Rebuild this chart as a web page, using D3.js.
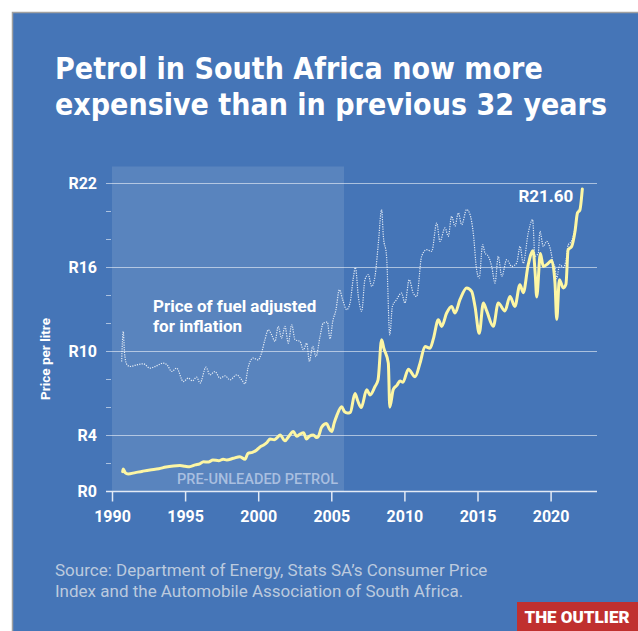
<!DOCTYPE html>
<html>
<head>
<meta charset="utf-8">
<script src="https://cdn.jsdelivr.net/npm/d3@7"></script>
<style>
  html, body { margin: 0; padding: 0; background: #ffffff; }
  svg { display: block; }
</style>
</head>
<body>
<svg id="chart" width="638" height="631"></svg>
<script>
// Nominal pump price of petrol (rand per litre), by decimal year
const nominalYears = [
  1990.73, 1990.77, 1990.9, 1991.1, 1991.6, 1992.1, 1992.6, 1993.2, 1993.7, 1994.2,
  1994.65, 1995.0, 1995.3, 1995.7, 1996.0, 1996.25, 1996.6, 1996.9, 1997.3, 1997.6,
  1997.85, 1998.3, 1998.75, 1999.1, 1999.3, 1999.6, 1999.9, 2000.15, 2000.35, 2000.6,
  2000.8, 2001.1, 2001.3, 2001.5, 2001.83, 2002.1, 2002.4, 2002.63, 2002.86, 2003.1,
  2003.3, 2003.5, 2003.77, 2004.0, 2004.11, 2004.34, 2004.68, 2004.85, 2005.03, 2005.2,
  2005.37, 2005.71, 2005.9, 2006.1, 2006.3, 2006.62, 2006.8, 2007.05, 2007.42, 2007.65,
  2007.99, 2008.2, 2008.44, 2008.6, 2008.9, 2009.0, 2009.24, 2009.5, 2009.7, 2009.9,
  2010.27, 2010.73, 2011.07, 2011.41, 2011.75, 2011.98, 2012.32, 2012.55, 2012.89, 2013.23,
  2013.46, 2013.8, 2014.26, 2014.6, 2014.83, 2015.12, 2015.4, 2015.63, 2016.08, 2016.42,
  2016.88, 2017.22, 2017.56, 2017.9, 2018.13, 2018.47, 2018.8, 2018.95, 2019.05, 2019.3,
  2019.5, 2019.84, 2020.07, 2020.3, 2020.42, 2020.6, 2020.87, 2021.05, 2021.2, 2021.44,
  2021.67, 2021.84, 2022.0, 2022.17
];
const nominalPrice = [
  1.42, 1.6, 1.35, 1.25, 1.35, 1.45, 1.54, 1.62, 1.75, 1.82,
  1.85, 1.8, 1.77, 1.9, 1.97, 2.13, 2.1, 2.25, 2.2, 2.3,
  2.25, 2.37, 2.49, 2.3, 2.73, 2.8, 2.97, 3.2, 3.3, 3.5,
  3.75, 3.7, 3.85, 4.04, 3.62, 3.95, 4.28, 3.95, 4.1, 4.2,
  3.75, 3.95, 4.04, 3.85, 3.92, 4.6, 4.85, 4.5, 4.28, 4.9,
  5.4, 6.05, 5.7, 5.6, 5.65, 7.0, 6.5, 6.0, 7.26, 6.9,
  7.5, 7.98, 10.84, 10.2, 9.17, 6.02, 7.3, 7.6, 7.9, 7.8,
  8.74, 8.2, 9.17, 10.36, 10.24, 10.9, 12.27, 11.79, 12.75, 13.22,
  12.75, 13.7, 14.54, 14.3, 13.22, 11.3, 13.46, 12.9, 11.8, 13.46,
  12.9, 13.93, 13.22, 14.77, 14.2, 16.2, 17.2, 15.5, 13.9, 17.0,
  16.08, 16.3, 16.5, 14.9, 12.3, 15.13, 14.54, 14.8, 17.27, 17.5,
  18.58, 19.9, 20.1, 21.6
];

// Price adjusted for inflation (today's rand per litre), by decimal year
const realYears = [
  1990.66, 1990.77, 1990.85, 1991.0, 1991.23, 1991.7, 1992.14, 1992.6, 1993.0, 1993.5,
  1993.8, 1994.08, 1994.42, 1994.88, 1995.22, 1995.5, 1995.79, 1996.02, 1996.43, 1996.7,
  1997.04, 1997.39, 1997.73, 1998.07, 1998.53, 1998.87, 1999.1, 1999.3, 1999.65, 2000.0,
  2000.2, 2000.46, 2000.69, 2000.92, 2001.15, 2001.37, 2001.6, 2001.83, 2002.06, 2002.29,
  2002.52, 2002.86, 2003.09, 2003.32, 2003.5, 2003.73, 2003.95, 2004.23, 2004.45, 2004.73,
  2004.91, 2005.1, 2005.32, 2005.55, 2005.78, 2006.05, 2006.28, 2006.5, 2006.65, 2006.85,
  2007.08, 2007.3, 2007.53, 2007.76, 2007.99, 2008.22, 2008.44, 2008.56, 2008.78, 2009.0,
  2009.18, 2009.46, 2009.8, 2010.04, 2010.33, 2010.6, 2010.84, 2011.18, 2011.52, 2011.87,
  2012.21, 2012.43, 2012.78, 2013.0, 2013.23, 2013.46, 2013.69, 2013.92, 2014.26, 2014.49,
  2014.71, 2014.94, 2015.12, 2015.35, 2015.51, 2015.74, 2015.97, 2016.2, 2016.42, 2016.66,
  2017.0, 2017.34, 2017.68, 2017.91, 2018.13, 2018.47, 2018.77, 2018.93, 2019.16, 2019.27,
  2019.5, 2019.73, 2019.96, 2020.18, 2020.3, 2020.42, 2020.55, 2020.64, 2020.87, 2021.05,
  2021.2, 2021.44, 2021.67, 2021.84, 2022.0, 2022.17
];
const realPrice = [
  9.28, 11.43, 10.0, 9.1, 8.93, 9.05, 9.12, 8.81, 8.95, 9.17,
  9.0, 8.57, 8.81, 7.85, 8.1, 7.9, 8.17, 7.74, 8.88, 8.33,
  8.57, 8.1, 8.26, 7.98, 8.33, 7.98, 7.69, 8.81, 9.53, 9.4,
  9.8, 10.84, 11.55, 11.19, 10.72, 11.79, 10.96, 11.79, 10.6, 11.91,
  10.84, 10.72, 10.12, 10.6, 9.28, 10.36, 9.64, 11.07, 12.03, 12.1,
  10.9, 12.15, 12.98, 14.41, 13.7, 12.98, 13.46, 15.2, 16.0, 13.93,
  12.86, 15.13, 15.49, 14.65, 15.37, 17.75, 20.14, 18.23, 16.8, 11.19,
  13.22, 13.7, 14.18, 13.46, 15.13, 14.18, 13.93, 16.8, 17.27, 17.15,
  19.18, 17.87, 18.83, 18.23, 19.66, 18.95, 19.9, 19.06, 20.14, 19.78,
  18.47, 15.84, 15.25, 17.63, 17.04, 16.8, 16.08, 14.89, 16.8, 15.37,
  16.56, 16.08, 16.32, 17.51, 16.3, 18.47, 19.42, 16.8, 17.04, 18.58,
  17.51, 17.87, 17.4, 16.32, 16.0, 15.2, 15.9, 16.2, 16.0, 16.5,
  17.6, 17.9, 18.8, 20.0, 20.2, 21.6
];

// Axis ticks and the leaded-petrol era
const xTickYears = [1990, 1995, 2000, 2005, 2010, 2015, 2020];
const yTickValues = [0, 2, 4, 6, 8, 10, 12, 14, 16, 18, 20, 22];
const yLabelledValues = [0, 4, 10, 16, 22];
const leadedEra = [1990, 2005.87];

const titleLines = ["Petrol in South Africa now more", "expensive than in previous 32 years"];
const sourceLines = [
  "Source: Department of Energy, Stats SA\u2019s Consumer Price",
  "Index and the Automobile Association of South Africa."
];

const svg = d3.select("#chart");
const W = 638, H = 631;
const BG = "#4575b7";

// Panel with thin grey frame
svg.append("rect")
  .attr("x", 12.5).attr("y", 12.5)
  .attr("width", W).attr("height", H)
  .attr("fill", BG)
  .attr("stroke", "#a0a0a0").attr("stroke-width", 1.5);

// Title, in a condensed face sized so the first line spans the header width
const title = svg.append("text")
  .attr("fill", "#ffffff")
  .attr("font-family", "'DejaVu Sans Condensed', 'DejaVu Sans', sans-serif")
  .style("font-stretch", "condensed")
  .attr("font-weight", 700)
  .attr("font-size", 32);
const titleSpans = titleLines.map((t, i) =>
  title.append("tspan").attr("x", 55).attr("y", 79 + i * 36).text(t));
const firstWidth = titleSpans[0].node().getComputedTextLength();
title.attr("font-size", 32 * 488 / firstWidth);

// Scales
const x = d3.scaleLinear().domain([1990, 2020]).range([112, 550.6]);
const y = d3.scaleLinear().domain([0, 22]).range([491.5, 183.5]);
const plotLeft = 106, plotRight = 597;

// Shaded leaded-petrol era
svg.append("rect")
  .attr("x", x(leadedEra[0]))
  .attr("y", 166.5)
  .attr("width", x(leadedEra[1]) - x(leadedEra[0]))
  .attr("height", y(0) - 166.5)
  .attr("fill", "#ffffff")
  .attr("fill-opacity", 0.11);

svg.append("text")
  .attr("x", x(leadedEra[1]) - 6)
  .attr("y", 484)
  .attr("text-anchor", "end")
  .attr("fill", "#a9bfe0")
  .attr("font-family", "Roboto, sans-serif")
  .attr("font-weight", 500)
  .attr("font-size", 14.5)
  .text("PRE-UNLEADED PETROL");

// Y axis: grid lines at labelled values, short ticks elsewhere
const gY = svg.append("g");
gY.selectAll("line.grid")
  .data(yLabelledValues.filter(v => v > 0))
  .join("line")
  .attr("x1", plotLeft).attr("x2", plotRight)
  .attr("y1", d => y(d)).attr("y2", d => y(d))
  .attr("stroke", "#ffffff").attr("stroke-opacity", 0.55)
  .attr("stroke-width", 1);
gY.selectAll("line.minor")
  .data(yTickValues.filter(v => !yLabelledValues.includes(v)))
  .join("line")
  .attr("x1", plotLeft).attr("x2", plotLeft + 5)
  .attr("y1", d => y(d)).attr("y2", d => y(d))
  .attr("stroke", "#ffffff").attr("stroke-opacity", 0.55)
  .attr("stroke-width", 1);
gY.selectAll("text")
  .data(yLabelledValues)
  .join("text")
  .attr("x", 97)
  .attr("y", d => y(d))
  .attr("dy", "0.36em")
  .attr("text-anchor", "end")
  .attr("fill", "#ffffff")
  .attr("font-family", "Roboto, sans-serif")
  .attr("font-weight", 700)
  .attr("font-size", 16)
  .text(d => "R" + d);

svg.append("text")
  .attr("transform", "translate(45,359) rotate(-90)")
  .attr("text-anchor", "middle")
  .attr("dy", "0.35em")
  .attr("fill", "#ffffff")
  .attr("font-family", "Roboto, sans-serif")
  .attr("font-weight", 700)
  .attr("font-size", 13.5)
  .text("Price per litre");

// X axis
const xAxis = d3.axisBottom(x)
  .tickValues(xTickYears)
  .tickFormat(d3.format("d"))
  .tickSize(10)
  .tickSizeOuter(0)
  .tickPadding(9);
const gX = svg.append("g")
  .attr("transform", `translate(0,${y(0)})`)
  .call(xAxis);
gX.select(".domain").remove();
gX.append("line")
  .attr("x1", plotLeft).attr("x2", plotRight)
  .attr("stroke", "#e3eaf5").attr("stroke-width", 1.5);
gX.selectAll(".tick line").attr("stroke", "#e3eaf5").attr("stroke-width", 1.5);
gX.selectAll(".tick text")
  .attr("fill", "#ffffff")
  .attr("font-family", "Roboto, sans-serif")
  .attr("font-weight", 700)
  .attr("font-size", 16);

// Lines
const realData = realYears.map((t, i) => ({ t, v: realPrice[i] }));
const nominalData = nominalYears.map((t, i) => ({ t, v: nominalPrice[i] }));
const line = d3.line().x(d => x(d.t)).y(d => y(d.v)).curve(d3.curveMonotoneX);

svg.append("path")
  .datum(realData)
  .attr("d", line)
  .attr("fill", "none")
  .attr("stroke", "#ffffff")
  .attr("stroke-opacity", 0.85)
  .attr("stroke-width", 1.2)
  .attr("stroke-dasharray", "1.2 1.2");

svg.append("path")
  .datum(nominalData)
  .attr("d", line)
  .attr("fill", "none")
  .attr("stroke", "#fdf6a4")
  .attr("stroke-width", 3)
  .attr("stroke-linejoin", "round")
  .attr("stroke-linecap", "round");

// Annotations
const last = nominalData[nominalData.length - 1];
svg.append("text")
  .attr("x", x(last.t) - 9)
  .attr("y", 202)
  .attr("text-anchor", "end")
  .attr("fill", "#ffffff")
  .attr("font-family", "Roboto, sans-serif")
  .attr("font-weight", 700)
  .attr("font-size", 17)
  .text("R" + last.v.toFixed(2));

const note = svg.append("text")
  .attr("fill", "#ffffff")
  .attr("font-family", "Roboto, sans-serif")
  .attr("font-weight", 700)
  .attr("font-size", 17);
["Price of fuel adjusted", "for inflation"].forEach((t, i) => {
  note.append("tspan").attr("x", 153).attr("y", 311.5 + i * 20).text(t);
});

// Source
const src = svg.append("text")
  .attr("fill", "#bccade")
  .attr("font-family", "Roboto, sans-serif")
  .attr("font-weight", 400)
  .attr("font-size", 17);
sourceLines.forEach((t, i) => {
  src.append("tspan").attr("x", 55).attr("y", 576 + i * 21).text(t);
});

// Logo
svg.append("rect")
  .attr("x", 517).attr("y", 602)
  .attr("width", W - 517).attr("height", H - 602)
  .attr("fill", "#c0302f");
svg.append("text")
  .attr("x", 577).attr("y", 617)
  .attr("dy", "0.36em")
  .attr("text-anchor", "middle")
  .attr("fill", "#ffffff")
  .attr("font-family", "Roboto, sans-serif")
  .attr("font-weight", 900)
  .attr("font-size", 17)
  .text("THE OUTLIER");
</script>
</body>
</html>
